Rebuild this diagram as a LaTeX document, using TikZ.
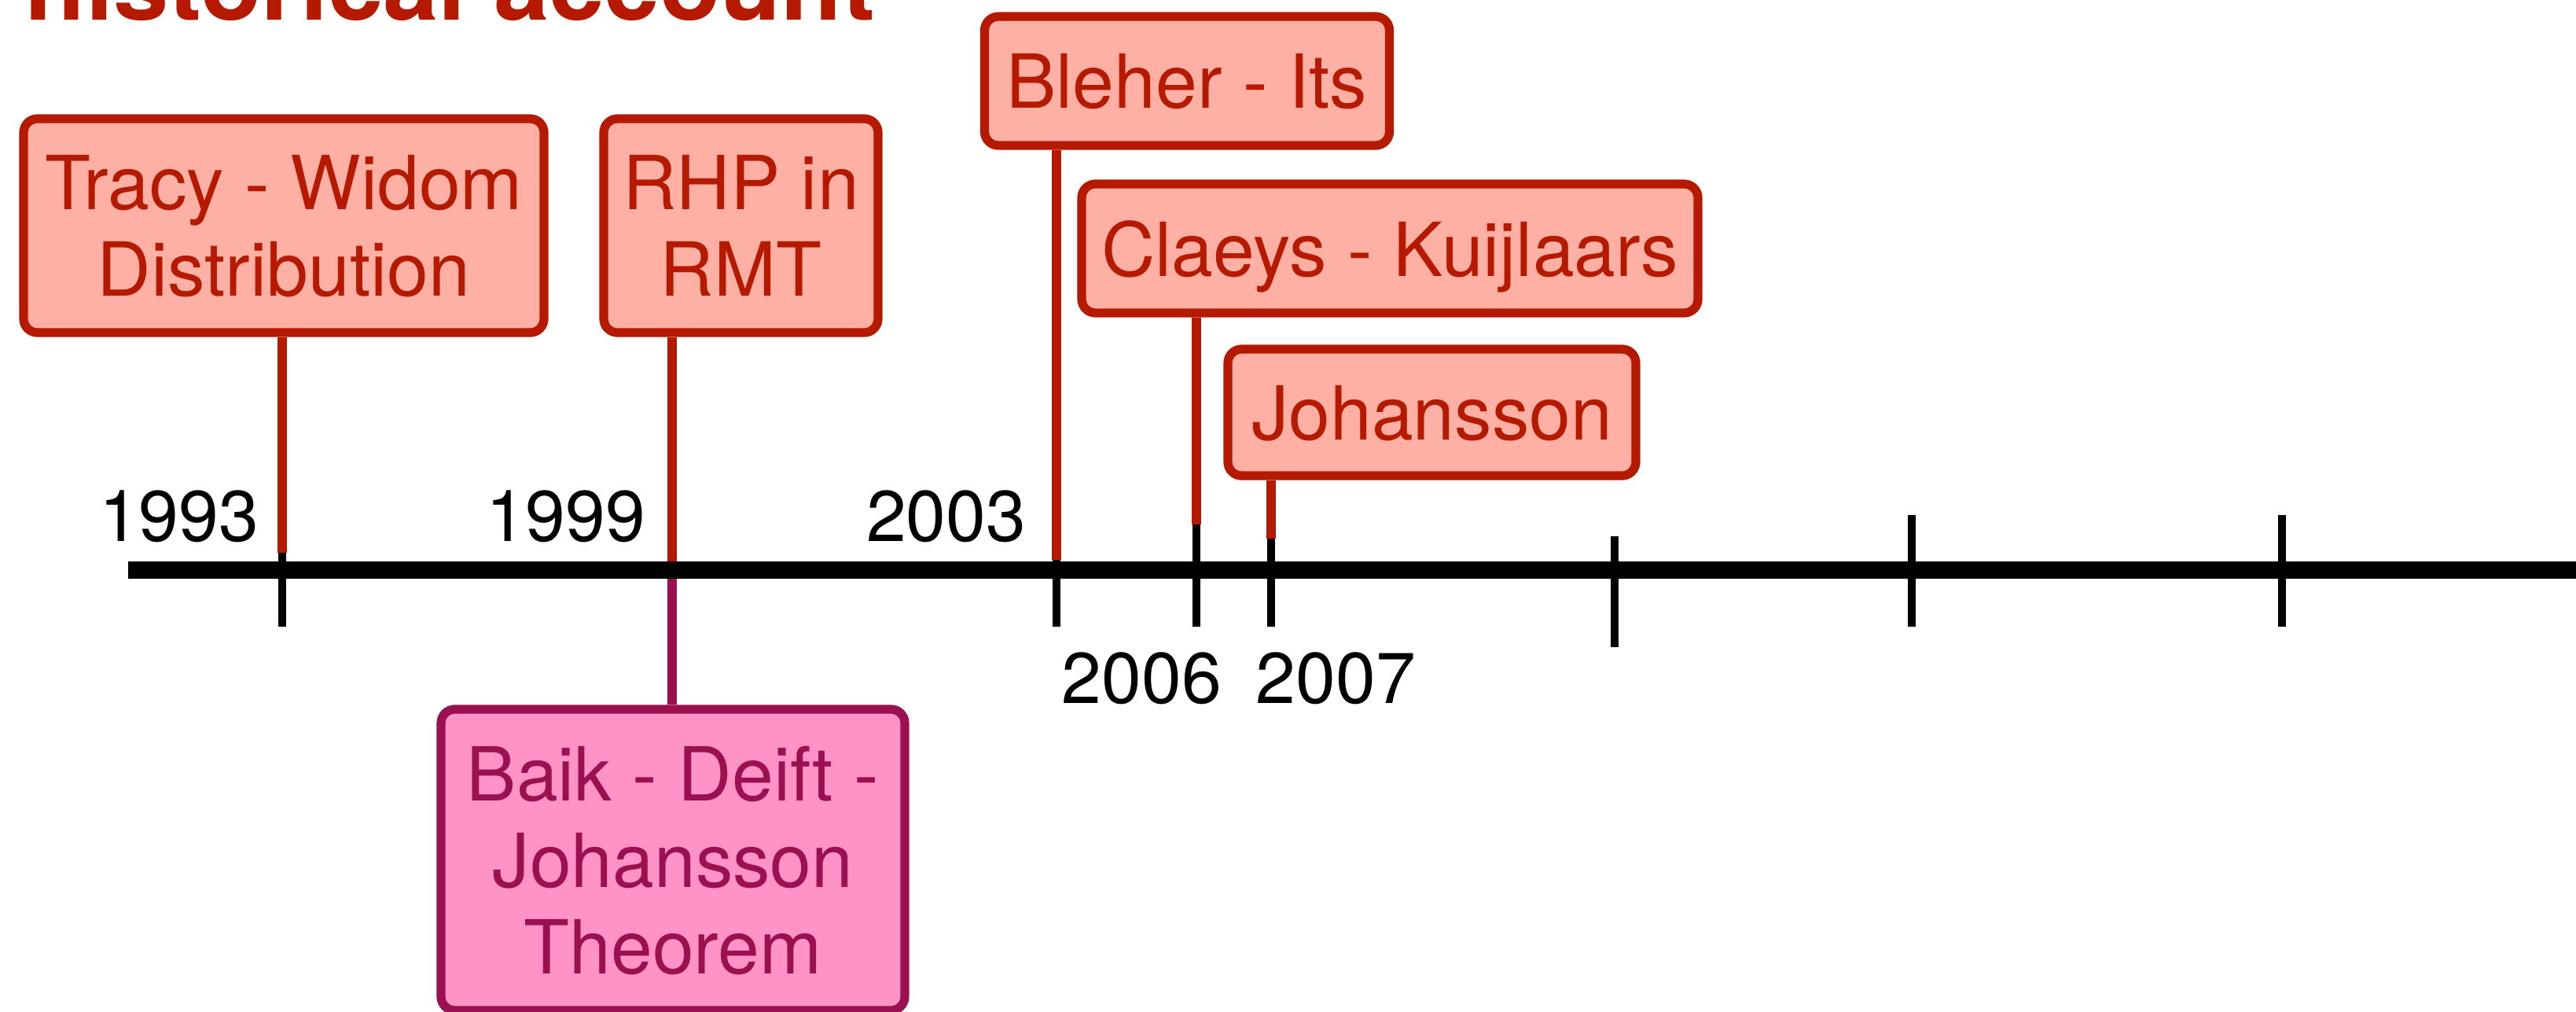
\documentclass[tikz,border=0pt]{standalone}
\usepackage{fontspec}
\setmainfont{TeX Gyre Heros}
\usetikzlibrary{positioning, calc}

\definecolor{evred}{HTML}{B51A00}
\definecolor{evsalmon}{HTML}{FFB0A4}
\definecolor{thmmagenta}{HTML}{9A1050}
\definecolor{thmpink}{HTML}{FF93C8}

\begin{document}
\begin{tikzpicture}[
  evbox/.style={rectangle, draw=evred, line width=3.2pt, rounded corners=5pt,
                fill=evsalmon, text=evred, align=center, inner sep=0pt,
                text depth=0pt, font=\fontsize{27}{31.3}\selectfont},
  thmbox/.style={evbox, draw=thmmagenta, fill=thmpink, text=thmmagenta},
  yearlab/.style={inner sep=0pt, font=\fontsize{26}{31.3}\selectfont},
  tickmark/.style={line width=3pt, black},
  link/.style={line width=3.6pt, evred},
  thmlink/.style={line width=3.6pt, thmmagenta},
  axis/.style={line width=6.5pt, black},
]
\useasboundingbox (0,0) rectangle (32.77,12.86);

% ---- title ----
\node[anchor=base west, inner sep=0pt, text=evred,
      font=\fontsize{36}{40}\selectfont\bfseries] (title) at (0.31,12.61)
      {historical account};

% ---- timeline points ----
\coordinate (axisstart) at (1.63,5.61);
\coordinate (axisend)   at (33.00,5.61);
\coordinate (y1993) at (3.59,5.61);
\coordinate (y1999) at (8.55,5.61);
\coordinate (y2003) at (13.44,5.61);
\coordinate (y2006) at (15.22,5.61);
\coordinate (y2007) at (16.17,5.61);
\coordinate (yA)    at (20.54,5.61);
\coordinate (yB)    at (24.32,5.61);
\coordinate (yC)    at (29.03,5.61);

% ends of the red links
\coordinate (e1993) at (3.59,5.83);
\coordinate (e2003) at (13.44,5.74);
\coordinate (e2006) at (15.22,6.19);
\coordinate (e2007) at (16.17,6.01);

% ---- ticks ----
\foreach \p in {y1993, y2003, y2006, y2007, yB, yC}
  \draw[tickmark] ($(\p)+(0,0.70)$) -- ($(\p)+(0,-0.72)$);
\draw[tickmark] ($(yA)+(0,0.43)$) -- ($(yA)+(0,-0.98)$);

% ---- boxes ----
\node[evbox, minimum width=6.62cm, minimum height=2.72cm] (tracy) at (3.61,9.99)
  {Tracy - Widom\\Distribution};
\node[evbox, minimum width=3.49cm, minimum height=2.72cm] (rhp) at (9.425,9.99)
  {RHP in\\RMT};
\node[evbox, minimum width=5.15cm, minimum height=1.64cm] (bleher) at (15.10,11.83)
  {Bleher - Its};
\node[evbox, minimum width=7.84cm, minimum height=1.64cm] (claeys) at (17.68,9.70)
  {Claeys - Kuijlaars};
\node[evbox, minimum width=5.19cm, minimum height=1.61cm] (johansson) at (18.215,7.615)
  {Johansson};
\node[thmbox, minimum width=5.90cm, minimum height=3.83cm] (bdj) at (8.56,1.925)
  {Baik - Deift -\\Johansson\\Theorem};

% ---- links ----
\draw[link] (tracy.south -| e1993) -- (e1993);
\draw[link] (rhp.south -| y1999) -- (y1999);
\draw[link] (bleher.south -| e2003) -- (e2003);
\draw[link] (claeys.south -| e2006) -- (e2006);
\draw[link] (johansson.south -| e2007) -- (e2007);
\draw[thmlink] (y1999) -- (bdj.north -| y1999);

% ---- axis ----
\draw[axis] (axisstart) -- (axisend);

% ---- years ----
\node[yearlab, anchor=base east] (lab1993) at (3.30,5.98) {1993};
\node[yearlab, anchor=base east] (lab1999) at (8.22,5.98) {1999};
\node[yearlab, anchor=base east] (lab2003) at (13.06,5.98) {2003};
\node[yearlab, anchor=base west] (lab2006) at (13.50,3.92) {2006};
\node[yearlab, anchor=base west] (lab2007) at (15.97,3.92) {2007};

\end{tikzpicture}
\end{document}
